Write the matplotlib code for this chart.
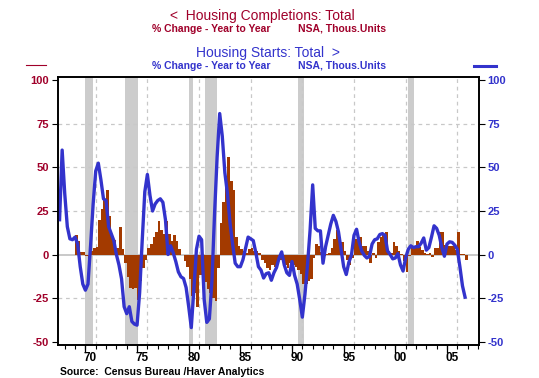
import matplotlib
matplotlib.use("Agg")
import matplotlib.pyplot as plt
from matplotlib.lines import Line2D
import numpy as np

plt.rcParams['font.family'] = ['Liberation Sans', 'DejaVu Sans']

# Housing starts: total, % change year to year (quarterly, from 1967 Q3)
starts_start = 1967.5
starts = [
    20, 60,
    35, 16, 9, 8.5,
    10, 6, -7, -17,
    -20.5, -17, 5, 29,
    48, 52.5, 43, 32,
    31, 16, 12, 8,
    0, -6, -14, -30,
    -34, -30, -38.5, -40,
    -40.6, -22, 8, 36,
    46, 34, 25, 29,
    31, 32, 30, 20,
    0, 5, 1, -4,
    -10, -12.8, -13.8, -19,
    -30, -42, -20, 3,
    10.5, 8.5, -26, -39,
    -37, -15, 23, 56,
    81, 68, 47, 35,
    18, 6, -5, -7,
    -7, -3, 3.5, 10,
    9, 8, 1, -7,
    -9, -13.5, -11, -10.5,
    -14.8, -10.5, -7.5, -2,
    1.5, -6, -10.5, -12,
    -4, -12, -17, -26,
    -36, -23, -6, 14,
    40, 15, 13.6, 13.6,
    -5, 4.5, 11, 17.5,
    22.5, 19, 13, 3,
    -7, -11.5, -4.5, -0.5,
    11, 14.5, 7, 2,
    -0.5, -2, -1, 6,
    8.5, 9, 11.5, 12,
    11, 2, 0, -2.5,
    -2, 0.5, -6, -9.5,
    -2, 3, 5, 4,
    4.5, 4.5, 6.5, 9.5,
    2.5, 4, 10, 16.5,
    15, 11, 4, -1,
    6, 7.3, 7, 5.4,
    3, -7, -18, -24.5,
]

# Housing completions: total, % change year to year (quarterly, from 1969 Q1)
compl_start = 1969.0
completions = [
    11, 8, 1.5, 1.5,
    -1, -2.5, 2, 4,
    4.5, 20, 26, 32,
    37, 22, 10, 8.5,
    4, 16, 3, -5,
    -13, -19, -20, -19,
    -26, -15, -8, -3,
    4, 6, 10, 13,
    19, 14, 12, 19,
    12, 8, 11, 8,
    3, 0, -4, -7,
    -14, -24, -22, -30,
    -12, -14, -16, -20,
    -22, -25, -27, -8,
    18, 30, 45, 56,
    42, 37, 10, 5,
    3, 2, 1, 3,
    4, 2, 2, 1,
    -3, -5, -8, -9,
    -6, -7, -5, -3,
    -3, -6, -8, -5,
    -6, -7, -9, -11,
    -17, -17, -15, -14,
    -2, 6, 5, 1.5,
    -1, 0.5, 1, 4,
    9, 14, 10, 7,
    2, -3, -6, -2,
    9, 11, 10, 5,
    5, 2, -5, 1,
    -2, 7, 10, 12,
    13, 2, 1, 7,
    5, 2, 0.5, -4,
    -10, -1, 4, 5,
    8, 4.5, 2.5, 1,
    0.5, 1, -1.3, 3.5,
    3.5, 13, 13, 5.5,
    5, 5, 5, 2.5,
    13, 0.5, 0.5, -3,
]

# recession periods (shaded)
recessions = [(1969.95, 1970.75), (1973.84, 1975.07), (1980.03, 1980.42),
              (1981.58, 1982.74), (1990.58, 1991.17), (2001.23, 2001.78)]

label_years = [1970, 1975, 1980, 1985, 1990, 1995, 2000, 2005]
tick_labels = ["70", "75", "80", "85", "90", "95", "00", "05"]
y_ticks = [-50, -25, 0, 25, 50, 75, 100]

red = "#a0002a"
blue = "#3333cc"
bar_color = "#a33a00"

W, H = 539, 378
fig = plt.figure(figsize=(W / 100, H / 100), dpi=100)
ax = fig.add_axes([57.5 / W, 1 - 345 / H, (479 - 57.5) / W, (345 - 77) / H])

ax.set_xlim(1967.3, 2008.1)
ax.set_ylim(-52, 102)

for a, b in recessions:
    ax.axvspan(a, b, color="#cccccc", lw=0, zorder=0)

# grid
for yy in [75, 50, 25, -25]:
    ax.axhline(yy, color="#c8c8c8", lw=0.9, ls=(0, (3, 3)), zorder=1)
for yr in label_years:
    ax.axvline(yr + 1, color="#c8c8c8", lw=0.9, ls=(0, (3, 3)), zorder=1)
ax.axhline(0, color="#c0c0c0", lw=1.2, zorder=1)

t_c = compl_start + 0.25 * np.arange(len(completions))
ax.bar(t_c, completions, width=0.25, align="edge", color=bar_color, lw=0, zorder=2)

t_s = starts_start + 0.25 * np.arange(len(starts))
ax.plot(t_s, starts, color=blue, lw=2.4, zorder=3)

# x axis: labels centred in the year, ticks at year starts
ax.set_xticks([y + 0.5 for y in label_years])
ax.set_xticklabels(tick_labels, fontsize=8.5, fontweight="bold")
ax.tick_params(axis="x", which="major", length=0, pad=5)
ax.set_xticks(np.arange(1968, 2009), minor=True)
ax.tick_params(axis="x", which="minor", length=3, width=0.8, direction="out")
for yr in label_years:
    ax.plot([yr, yr], [0, -0.025], transform=ax.get_xaxis_transform(),
            color="black", lw=0.9, clip_on=False)

ax.set_yticks(y_ticks)
ax.set_yticklabels([str(v) for v in y_ticks], fontsize=8, fontweight="bold", color=red)
ax.tick_params(axis="y", length=4, width=0.8, direction="out", pad=2)

ax2 = ax.twinx()
ax2.set_ylim(ax.get_ylim())
ax2.set_yticks(y_ticks)
ax2.set_yticklabels([str(v) for v in y_ticks], fontsize=8, fontweight="bold", color=blue)
ax2.tick_params(axis="y", length=4, width=0.8, direction="out", pad=2)

for a in (ax, ax2):
    for s in a.spines.values():
        s.set_linewidth(1.2)
        s.set_color("black")


def fx(x):
    return x / W


def fy(y):
    return 1 - y / H


fig.text(fx(262), fy(16), "<  Housing Completions: Total", color=red, fontsize=10,
         ha="center", va="center")
fig.text(fx(271), fy(28.7), "% Change - Year to Year", color=red, fontsize=7.5,
         fontweight="bold", ha="right", va="center")
fig.text(fx(298), fy(28.7), "NSA, Thous.Units", color=red, fontsize=7.5,
         fontweight="bold", ha="left", va="center")
fig.text(fx(268), fy(53.3), "Housing Starts: Total  >", color=blue, fontsize=10,
         ha="center", va="center")
fig.text(fx(271), fy(65.7), "% Change - Year to Year", color=blue, fontsize=7.5,
         fontweight="bold", ha="right", va="center")
fig.text(fx(298), fy(65.7), "NSA, Thous.Units", color=blue, fontsize=7.5,
         fontweight="bold", ha="left", va="center")

fig.add_artist(Line2D([fx(25.7), fx(46)], [fy(65), fy(65)], color=red, lw=0.8,
                      transform=fig.transFigure))
fig.add_artist(Line2D([fx(474), fx(496)], [fy(65.7), fy(65.7)], color=blue, lw=2.2,
                      transform=fig.transFigure))

fig.text(fx(60), fy(371.7), "Source:  Census Bureau /Haver Analytics", fontsize=7.5,
         fontweight="bold", ha="left", va="center")

fig.savefig("out.png", dpi=100)
